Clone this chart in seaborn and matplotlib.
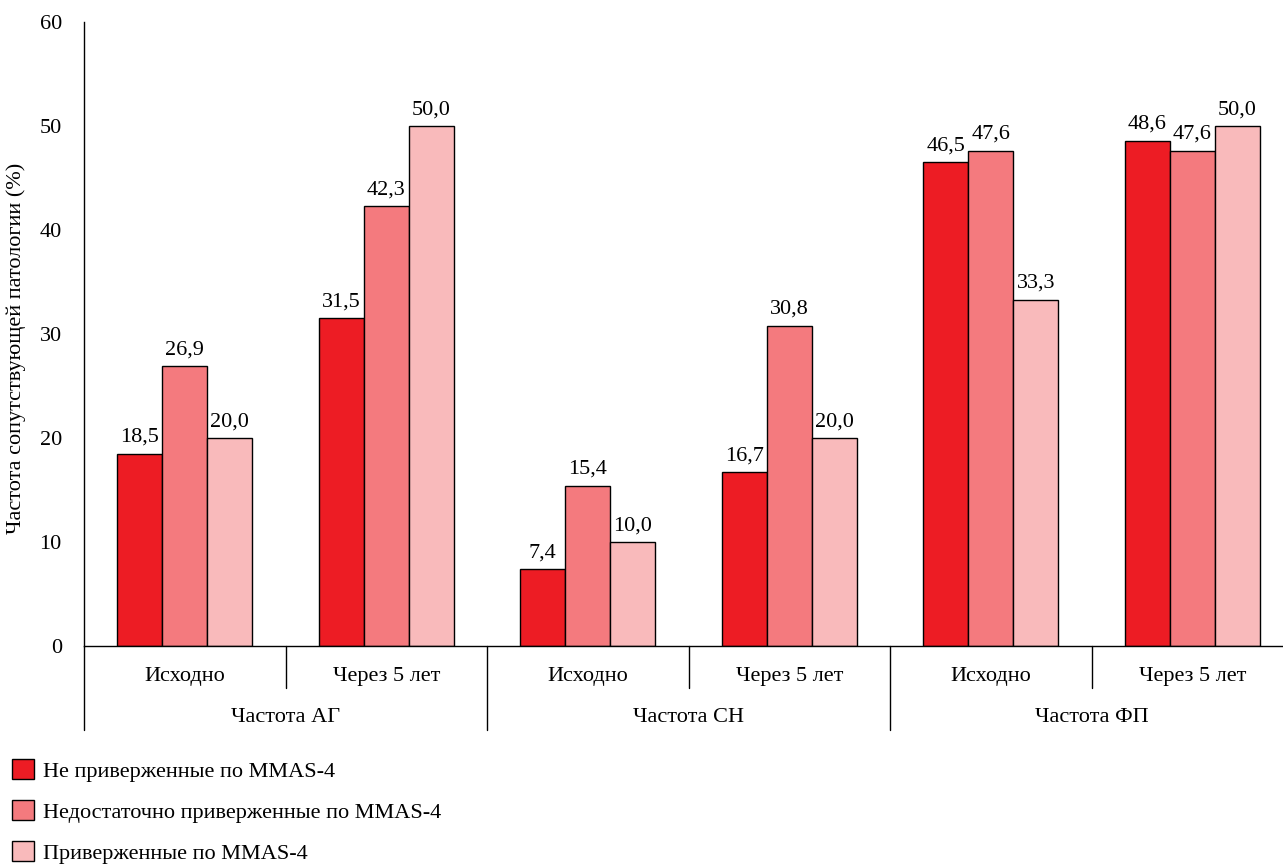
import matplotlib
matplotlib.use("Agg")
import matplotlib.pyplot as plt
import pandas as pd
import seaborn as sns

# --- data ---------------------------------------------------------------
groups = ["Частота АГ", "Частота СН", "Частота ФП"]
periods = ["Исходно", "Через 5 лет"]
series_names = [
    "Не приверженные по MMAS-4",
    "Недостаточно приверженные по MMAS-4",
    "Приверженные по MMAS-4",
]
non_adherent = [18.5, 31.5, 7.4, 16.7, 46.5, 48.6]
insufficient = [26.9, 42.3, 15.4, 30.8, 47.6, 47.6]
adherent = [20.0, 50.0, 10.0, 20.0, 33.3, 50.0]
y_ticks = [0, 10, 20, 30, 40, 50, 60]
y_label = "Частота сопутствующей патологии (%)"

colors = ["#ED1C24", "#F47A7E", "#F9BABB"]
FS = 16

# --- long table for seaborn --------------------------------------------
keys = [f"{g}|{p}" for g in groups for p in periods]
rows = []
for name, vals in zip(series_names, [non_adherent, insufficient, adherent]):
    for k, v in zip(keys, vals):
        rows.append({"key": k, "series": name, "value": v})
df = pd.DataFrame(rows)

sns.set_theme(style="white")
plt.rcParams["font.family"] = ["Liberation Serif", "DejaVu Serif"]
plt.rcParams["font.size"] = FS
plt.rcParams["text.color"] = "black"
plt.rcParams["axes.labelcolor"] = "black"
plt.rcParams["xtick.color"] = "black"
plt.rcParams["ytick.color"] = "black"

fig = plt.figure(figsize=(12.83, 8.64), dpi=100)
ax = fig.add_axes([84 / 1283, 1 - 646 / 864, (1293 - 84) / 1283, (646 - 22) / 864])

sns.barplot(
    data=df, x="key", y="value", hue="series", order=keys,
    hue_order=series_names, palette=colors, width=0.67,
    edgecolor="black", linewidth=1.0, errorbar=None, ax=ax, saturation=1,
)

for cont in ax.containers:
    labels = [f"{b.get_height():.1f}".replace(".", ",") for b in cont]
    ax.bar_label(cont, labels=labels, padding=5, fontsize=FS, color="black")

ax.set_xlim(-0.5, len(keys) - 0.5)
ax.set_ylim(0, 60)
ax.set_yticks(y_ticks)
ax.set_yticklabels([str(t) for t in y_ticks], fontsize=FS)
ax.tick_params(axis="y", direction="out", length=6, width=1, color="black", pad=10)
ax.set_xticks([])
ax.set_xlabel("")
ax.set_ylabel(y_label, fontsize=FS)
ax.yaxis.set_label_coords((26 - 84) / 1209, (646 - 348) / 624)

for s in ["top", "right"]:
    ax.spines[s].set_visible(False)
for s in ["left", "bottom"]:
    ax.spines[s].set_color("black")
    ax.spines[s].set_linewidth(1)

# --- two-level category axis -------------------------------------------
trans = ax.get_xaxis_transform()
px = 1 / (646 - 22)  # axes fraction per pixel in height
sub_depth = -42 * px
grp_depth = -84 * px
for i, k in enumerate(keys):
    period = k.split("|")[1]
    ax.text(i, -31 * px, period, transform=trans, ha="center", va="center", fontsize=FS)
for gi, g in enumerate(groups):
    ax.text(gi * 2 + 0.5, -72 * px, g, transform=trans, ha="center", va="center", fontsize=FS)
    ax.plot([gi * 2 + 0.5] * 2, [0, sub_depth], transform=trans,
            color="black", lw=1, clip_on=False)
for b in range(len(groups) + 1):
    ax.plot([b * 2 - 0.5] * 2, [0, grp_depth], transform=trans,
            color="black", lw=1, clip_on=False)

# --- legend -------------------------------------------------------------
handles, labels = ax.get_legend_handles_labels()
ax.get_legend().remove()
fig.legend(
    handles, labels, loc="lower left", bbox_to_anchor=(-0.003, -0.0175),
    frameon=False, ncol=1, fontsize=FS, handlelength=1.0, handleheight=1.0,
    handletextpad=0.4, labelspacing=0.82, borderaxespad=0.3,
)

fig.savefig("out.png", dpi=100)
